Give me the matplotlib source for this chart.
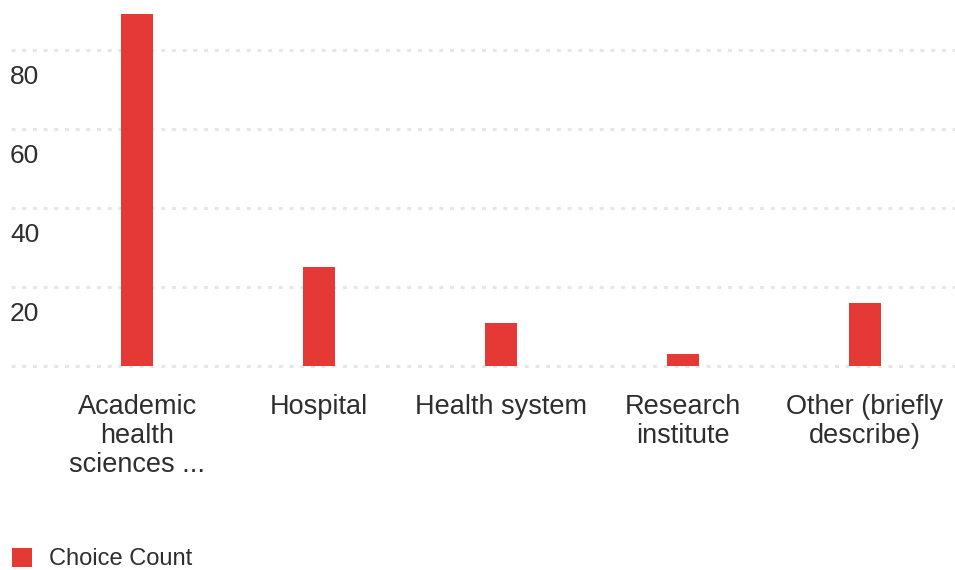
import matplotlib.pyplot as plt
from matplotlib.transforms import offset_copy, blended_transform_factory

categorias = ['Academic\nhealth\nsciences ...', 'Hospital', 'Health system',
              'Research\ninstitute', 'Other (briefly\ndescribe)']
conteos = [89, 25, 11, 3, 16]
marcas_y = [20, 40, 60, 80]
serie = 'Choice Count'

plt.rcParams['font.family'] = ['Liberation Sans', 'DejaVu Sans']
rojo = '#e53935'
texto = '#2e2e2e'

fig = plt.figure(figsize=(9.55, 5.7), dpi=100)
ax = fig.add_axes([11/955, (570-366)/570, (955-11)/955, 363/570])

x = range(len(categorias))
barras = ax.bar(x, conteos, width=0.176, color=rojo, label=serie, zorder=3)

ax.set_xlim(-0.695, 4.495)
ax.set_ylim(0, 91.9)

# rejilla punteada gris, con el 0 incluido
ax.set_yticks([0] + marcas_y)
ax.set_yticklabels([])
ax.grid(axis='y', color='#e6e6e6', linewidth=2.2, linestyle=(0, (1.3, 2.2)), zorder=0)
for linea in ax.get_ygridlines():
    linea.set_clip_on(False)
ax.tick_params(axis='y', length=0)

# etiquetas del eje y debajo de su linea
trans = blended_transform_factory(ax.transAxes, ax.transData)
trans = offset_copy(trans, fig=fig, x=-1, y=-15, units='dots')
for v in marcas_y:
    ax.text(0, v, str(v), transform=trans, ha='left', va='top', fontsize=19, color=texto)

ax.set_xticks(list(x))
ax.set_xticklabels(categorias, fontsize=19.5, color=texto, linespacing=1.16)
ax.tick_params(axis='x', length=0, pad=20)

for lado in ax.spines.values():
    lado.set_visible(False)

fig.legend(handles=[barras], loc='center left', bbox_to_anchor=(0.0, 1 - 559/570),
           frameon=False, fontsize=17, handlelength=0.85, handleheight=0.85,
           handletextpad=0.72, borderaxespad=0.1, labelcolor=texto)

fig.savefig('out.png', dpi=100)
